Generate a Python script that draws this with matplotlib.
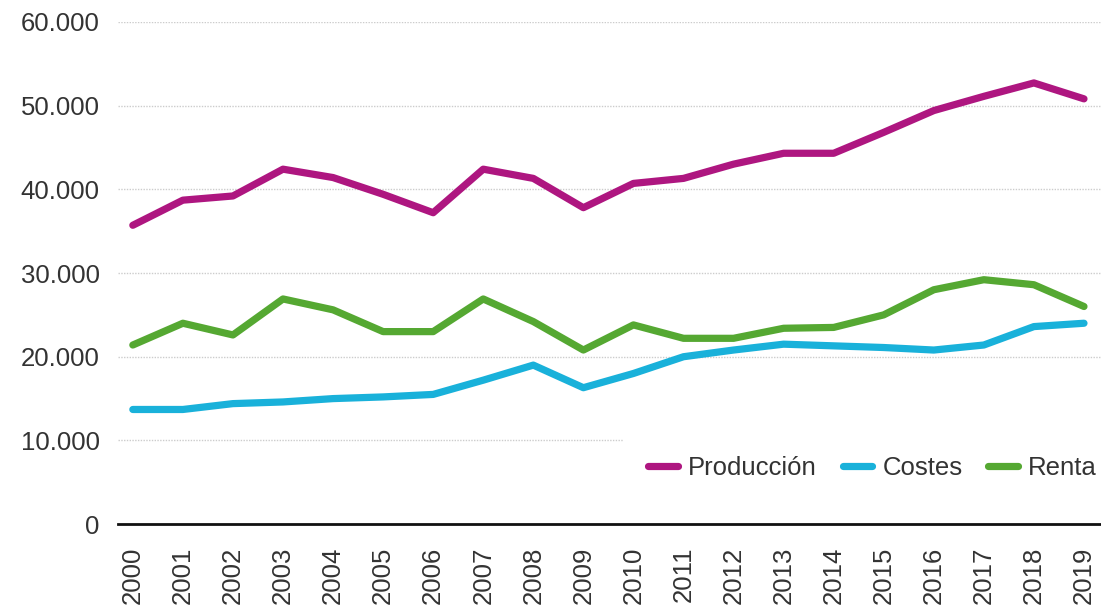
import matplotlib.pyplot as plt

# Series (euros), campaigns 2000-2019
years = list(range(2000, 2020))
produccion = [35700, 38700, 39200, 42400, 41400, 39400, 37200, 42400, 41300, 37800,
              40700, 41300, 43000, 44300, 44300, 46800, 49400, 51100, 52700, 50800]
costes = [13700, 13700, 14400, 14600, 15000, 15200, 15500, 17200, 19000, 16300,
          18000, 20000, 20800, 21500, 21300, 21100, 20800, 21400, 23600, 24000]
renta = [21400, 24000, 22600, 26900, 25600, 23000, 23000, 26900, 24200, 20800,
         23800, 22200, 22200, 23400, 23500, 25000, 28000, 29200, 28600, 26000]
y_ticks = [0, 10000, 20000, 30000, 40000, 50000, 60000]

plt.rcParams['font.family'] = ['Liberation Sans', 'DejaVu Sans']
text_color = '#333333'

fig = plt.figure(figsize=(11.01, 6.06), dpi=100)
ax = fig.add_axes([0.107, 0.135, 0.893, 0.829])

ax.plot(years, produccion, color='#AE1680', lw=5.2, label='Producción', solid_capstyle='round')
ax.plot(years, costes, color='#19B1DA', lw=5.2, label='Costes', solid_capstyle='round')
ax.plot(years, renta, color='#55A832', lw=5.2, label='Renta', solid_capstyle='round')

ax.set_xlim(1999.7, 2019.34)
ax.set_ylim(0, 60000)
ax.set_yticks(y_ticks)
ax.set_yticklabels(['0' if v == 0 else f'{v:,}'.replace(',', '.') for v in y_ticks])
ax.set_xticks(years)
ax.set_xticklabels([str(y) for y in years], rotation=90)
ax.tick_params(axis='both', length=0, labelsize=18.5, labelcolor=text_color)
ax.tick_params(axis='y', pad=13)
ax.tick_params(axis='x', pad=16)

for s in ['top', 'right', 'left']:
    ax.spines[s].set_visible(False)
ax.spines['bottom'].set_linewidth(2)
ax.spines['bottom'].set_color('#111111')
ax.spines['bottom'].set_zorder(5)

for v in y_ticks[1:]:
    ax.axhline(v, color='#cccccc', lw=1, ls=(0, (1, 1)), zorder=0)

leg = ax.legend(loc='center right', bbox_to_anchor=(1.035, 0.112), ncol=3, fontsize=18.5,
                frameon=True, facecolor='white', edgecolor='none', framealpha=1,
                handlelength=1.15, handletextpad=0.4, columnspacing=1.0, borderpad=1.0)
for txt in leg.get_texts():
    txt.set_color(text_color)

fig.savefig('out.png', dpi=100)
